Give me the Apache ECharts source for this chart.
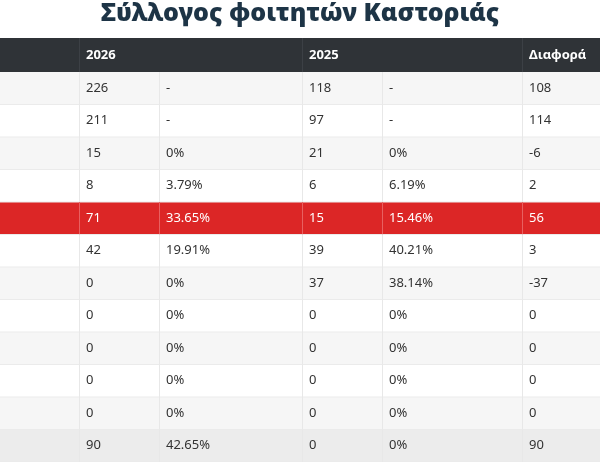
<!DOCTYPE html>
<html>
<head>
<meta charset="utf-8">
<script src="https://cdn.jsdelivr.net/npm/echarts@6/dist/echarts.min.js"></script>
<style>html,body{margin:0;padding:0;background:#fff}#main{width:600px;height:462px}</style>
</head>
<body>
<div id="main"></div>
<script>
var title = 'Σύλλογος φοιτητών Καστοριάς';
var headers = ['', '2026', '', '2025', '', 'Διαφορά'];
var votes2026 = ['226', '211', '15', '8', '71', '42', '0', '0', '0', '0', '0', '90'];
var pct2026 = ['-', '-', '0%', '3.79%', '33.65%', '19.91%', '0%', '0%', '0%', '0%', '0%', '42.65%'];
var votes2025 = ['118', '97', '21', '6', '15', '39', '37', '0', '0', '0', '0', '0'];
var pct2025 = ['-', '-', '0%', '6.19%', '15.46%', '40.21%', '38.14%', '0%', '0%', '0%', '0%', '0%'];
var diff = ['108', '114', '-6', '2', '56', '3', '-37', '0', '0', '0', '0', '90'];
var highlightRow = 4;

var colX = [0, 80, 160, 303, 383, 523, 600];
var headTop = 38, headH = 34, rowH = 32.5;

var chart = echarts.init(document.getElementById('main'));
var els = [];
els.push({type: 'text', left: 'center', top: 1, style: {text: title, font: '900 25px "Noto Sans"', fill: '#1d3446'}});
els.push({type: 'rect', shape: {x: 0, y: headTop, width: 600, height: headH}, style: {fill: '#2f3337'}});
for (var c = 1; c < colX.length - 1; c++) {
    if (headers[c]) els.push({type: 'text', x: colX[c] + 6, y: headTop + headH / 2, style: {text: headers[c], font: 'bold 13px "Noto Sans"', fill: '#fff', verticalAlign: 'middle'}, z: 10});
}
[1, 3, 5].forEach(function (c) {
    els.push({type: 'line', shape: {x1: colX[c] - 0.5, y1: headTop, x2: colX[c] - 0.5, y2: headTop + headH}, style: {stroke: '#3c4045', lineWidth: 1}, z: 5});
});
for (var r = 0; r < votes2026.length; r++) {
    var y = headTop + headH + r * rowH;
    var hl = r === highlightRow;
    var fill = hl ? '#dc2626' : (r === votes2026.length - 1 ? '#ececec' : (r % 2 === 0 ? '#f6f6f6' : '#ffffff'));
    els.push({type: 'rect', shape: {x: 0, y: y, width: 600, height: rowH}, style: {fill: fill}});
    els.push({type: 'line', shape: {x1: 0, y1: y + rowH, x2: 600, y2: y + rowH}, style: {stroke: '#ebebeb', lineWidth: 1}, z: 4});
    var vals = ['', votes2026[r], pct2026[r], votes2025[r], pct2025[r], diff[r]];
    for (var k = 1; k < vals.length; k++) {
        els.push({type: 'text', x: colX[k] + 6, y: y + rowH / 2, style: {text: vals[k], font: '13px "Noto Sans"', fill: hl ? '#fff' : '#333', verticalAlign: 'middle'}, z: 10});
    }
    for (var c2 = 1; c2 < colX.length - 1; c2++) {
        els.push({type: 'line', shape: {x1: colX[c2] - 0.5, y1: y, x2: colX[c2] - 0.5, y2: y + rowH}, style: {stroke: hl ? '#e86060' : '#e8e8e8', lineWidth: 1}, z: 6});
    }
}
chart.setOption({graphic: {elements: els}});
</script>
</body>
</html>
